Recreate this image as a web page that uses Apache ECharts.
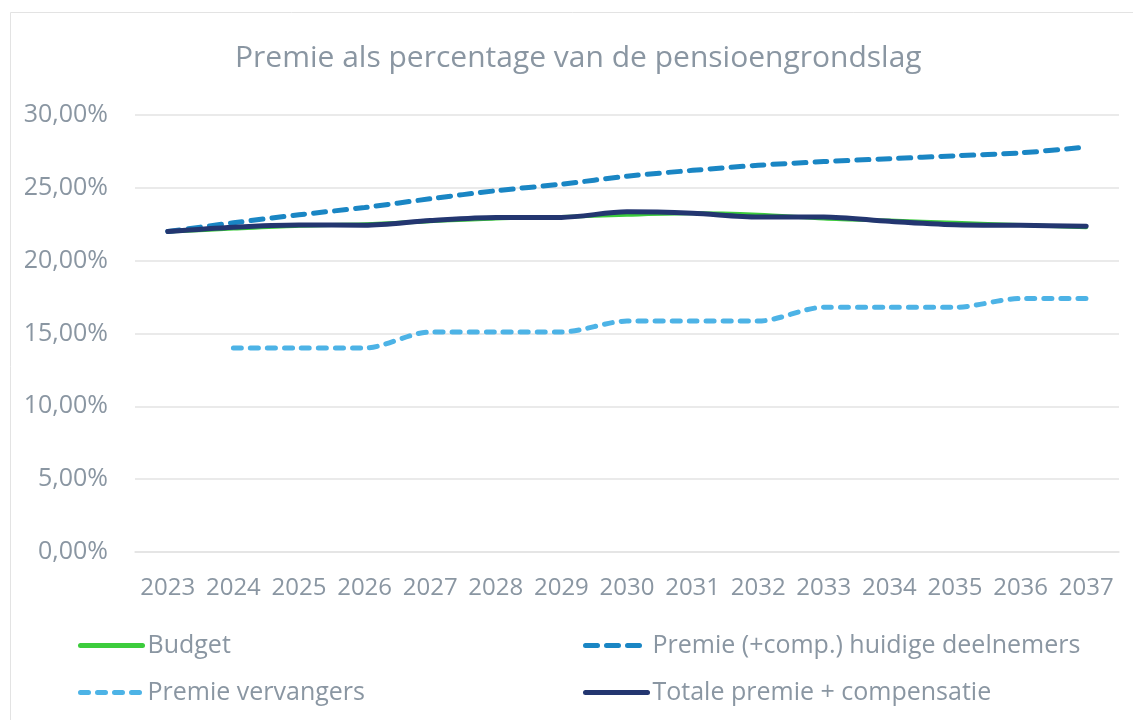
<!DOCTYPE html>
<html><head><meta charset="utf-8">
<script src="https://cdn.jsdelivr.net/npm/echarts@6/dist/echarts.min.js"></script>
<style>html,body{margin:0;padding:0;background:#fff}#c{width:1133px;height:720px}</style>
</head><body><div id="c"></div>
<script>
const years = ['2023','2024','2025','2026','2027','2028','2029','2030','2031','2032','2033','2034','2035','2036','2037'];
const budget = [22.0,22.2,22.4,22.5,22.7,22.9,23.0,23.15,23.25,23.15,22.9,22.75,22.6,22.45,22.3];
const premieHuidige = [22.0,22.6,23.15,23.65,24.25,24.8,25.25,25.8,26.2,26.55,26.8,27.0,27.2,27.4,27.8];
const premieVervangers = [null,14.0,14.0,14.0,15.1,15.1,15.1,15.85,15.85,15.85,16.8,16.8,16.8,17.4,17.4];
const totale = [22.0,22.3,22.45,22.43,22.75,22.97,22.97,23.35,23.25,23.0,23.0,22.7,22.47,22.43,22.36];
const yTicks = [0,5,10,15,20,25,30];

const txt = '#8a96a2';
const font = '"Open Sans", "Noto Sans", sans-serif';
const chart = echarts.init(document.getElementById('c'));
const fmt = v => v.toFixed(2).replace('.', ',') + '%';
const legendCommon = {orient:'vertical',top:628,itemWidth:62,itemHeight:14,itemGap:22,
  itemStyle:{opacity:0},lineStyle:{width:5},
  textStyle:{color:txt,fontSize:25,fontFamily:font,padding:[0,0,0,0]}};
chart.setOption({
  animation:false,
  textStyle:{fontFamily:font},
  title:{text:'Premie als percentage van de pensioengrondslag',left:230,top:38,
    textStyle:{fontFamily:font,fontSize:30,fontWeight:'normal',color:txt}},
  graphic:[{type:'rect',shape:{x:10.5,y:12.5,width:1140,height:720},style:{fill:'none',stroke:'#e3e3e3',lineWidth:1},silent:true}],
  grid:{left:135,right:14,top:115,bottom:168},
  xAxis:{type:'category',data:years,boundaryGap:true,
    axisLine:{lineStyle:{color:'#e3e3e3',width:1.5}},axisTick:{show:false},
    axisLabel:{color:txt,fontSize:24,margin:24,fontFamily:font,interval:0}},
  yAxis:{type:'value',min:yTicks[0],max:yTicks[yTicks.length-1],interval:5,
    axisLine:{show:false},axisTick:{show:false},
    splitLine:{lineStyle:{color:'#e3e3e3',width:1.5}},
    axisLabel:{color:txt,fontSize:25,margin:27,fontFamily:font,formatter:fmt}},
  legend:[
    Object.assign({left:73,data:['Budget','Premie vervangers']},legendCommon),
    Object.assign({left:578,data:['Premie (+comp.) huidige deelnemers','Totale premie + compensatie']},legendCommon)
  ],
  series:[
    {name:'Budget',type:'line',data:budget,smooth:0.3,symbol:'none',
     lineStyle:{color:'#3ccc3c',width:4,cap:'round'},itemStyle:{color:'#3ccc3c'}},
    {name:'Premie (+comp.) huidige deelnemers',type:'line',data:premieHuidige,smooth:0.3,symbol:'none',
     lineStyle:{color:'#1a86c4',width:5,type:[12,9],cap:'round'},itemStyle:{color:'#1a86c4'}},
    {name:'Premie vervangers',type:'line',data:premieVervangers,smooth:0.3,symbol:'none',
     lineStyle:{color:'#4db3e6',width:5,type:[8,9],cap:'round'},itemStyle:{color:'#4db3e6'}},
    {name:'Totale premie + compensatie',type:'line',data:totale,smooth:0.3,symbol:'none',
     lineStyle:{color:'#233670',width:5,cap:'round'},itemStyle:{color:'#233670'}}
  ]
});
</script></body></html>
